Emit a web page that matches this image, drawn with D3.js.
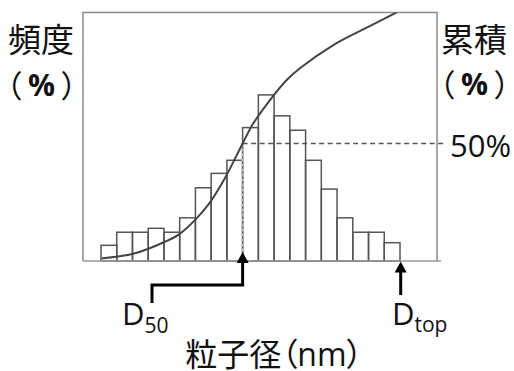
<!DOCTYPE html>
<html>
<head>
<meta charset="utf-8">
<script src="https://cdn.jsdelivr.net/npm/d3@7"></script>
<style>
  html, body { margin: 0; padding: 0; background: #fff; }
  text { font-family: "Open Sans", "Noto Sans CJK JP", sans-serif; font-feature-settings: "palt"; fill: #111; }
</style>
</head>
<body>
<div id="chart"></div>
<script>
// Histogram bins (particle size classes) and frequency in %
var bins = ["1", "2", "3", "4", "5", "6", "7", "8", "9", "10",
            "11", "12", "13", "14", "15", "16", "17", "18", "19"];
var frequency = [1.2, 2.2, 2.2, 2.5, 2.2, 3.3, 5.6, 6.7, 7.7, 10.2,
                 12.7, 11.1, 10.0, 7.7, 5.5, 3.3, 2.2, 2.2, 1.4];

// Cumulative curve (position in bin units, %)
var cumPos = [0.04, 2.16, 4.07, 4.91, 5.97, 6.88, 7.88, 9.0, 9.68,
              10.74, 11.8, 12.64, 14.76, 16.88, 18.79];
var cumValue = [1.1, 3.3, 8.2, 11.1, 17.4, 24.5, 35.3, 50.0, 58.6,
                68.5, 77.0, 82.0, 91.9, 99.3, 105.8];

// Marker positions
var d50Pos = 9.0;
var dTopPos = 19;
var cumLevel = 50;

// Layout
var width = 514;
var height = 371;
var frame = { left: 83, right: 437, top: 12.5, bottom: 261 };

var svg = d3.select("#chart")
    .append("svg")
    .attr("width", width)
    .attr("height", height);

// Scales
var x = d3.scaleLinear()
    .domain([0, bins.length])
    .range([101, 400]);

var yFreq = d3.scaleLinear()
    .domain([0, 19])
    .range([frame.bottom, frame.top]);

var yCum = d3.scaleLinear()
    .domain([0, 100])
    .range([frame.bottom, frame.bottom - 235]);

// Clip for curve
svg.append("clipPath")
    .attr("id", "plot-clip")
    .append("rect")
    .attr("x", frame.left)
    .attr("y", frame.top)
    .attr("width", frame.right - frame.left)
    .attr("height", frame.bottom - frame.top);

// Bars
svg.append("g")
    .selectAll("rect")
    .data(frequency)
    .enter()
    .append("rect")
    .attr("x", function(d, i) { return x(i); })
    .attr("y", function(d) { return yFreq(d); })
    .attr("width", function(d, i) { return x(i + 1) - x(i); })
    .attr("height", function(d) { return frame.bottom - yFreq(d); })
    .style("fill", "none")
    .style("stroke", "#555")
    .style("stroke-width", 1.5);

// Frame (left, top, right) and baseline
svg.append("path")
    .attr("d", "M" + frame.left + "," + frame.bottom + "V" + frame.top + "H" + frame.right + "V" + frame.bottom)
    .style("fill", "none")
    .style("stroke", "#8a8a8a")
    .style("stroke-width", 1.5);

svg.append("line")
    .attr("x1", frame.left)
    .attr("x2", frame.right + 4)
    .attr("y1", frame.bottom)
    .attr("y2", frame.bottom)
    .style("stroke", "#999")
    .style("stroke-width", 1.5);

// D50 vertical dotted line
svg.append("line")
    .attr("x1", x(d50Pos))
    .attr("x2", x(d50Pos))
    .attr("y1", yCum(cumLevel))
    .attr("y2", frame.bottom)
    .style("stroke", "#bbb")
    .style("stroke-width", 2.5)
    .style("stroke-dasharray", "3,2");

// 50% dashed line
svg.append("line")
    .attr("x1", x(d50Pos))
    .attr("x2", 446)
    .attr("y1", yCum(cumLevel))
    .attr("y2", yCum(cumLevel))
    .style("stroke", "#555")
    .style("stroke-width", 1.5)
    .style("stroke-dasharray", "5,3.5");

// Cumulative curve
var line = d3.line()
    .x(function(d) { return x(d[0]); })
    .y(function(d) { return yCum(d[1]); })
    .curve(d3.curveCatmullRom.alpha(0.5));

svg.append("path")
    .datum(d3.zip(cumPos, cumValue))
    .attr("d", line)
    .attr("clip-path", "url(#plot-clip)")
    .style("fill", "none")
    .style("stroke", "#444")
    .style("stroke-width", 2);

// Arrows
function arrowHead(px, tipY) {
    return "M" + px + "," + tipY + "L" + (px - 6) + "," + (tipY + 11) + "L" + (px + 6) + "," + (tipY + 11) + "Z";
}

var d50x = x(d50Pos);
svg.append("path")
    .attr("d", "M" + d50x + "," + 262 + "V285H152V303")
    .style("fill", "none")
    .style("stroke", "#000")
    .style("stroke-width", 3);
svg.append("path")
    .attr("d", arrowHead(d50x, 252))
    .style("fill", "#000");

var dTopx = x(dTopPos) + 0.7;
svg.append("line")
    .attr("x1", dTopx)
    .attr("x2", dTopx)
    .attr("y1", 271)
    .attr("y2", 295)
    .style("stroke", "#000")
    .style("stroke-width", 3);
svg.append("path")
    .attr("d", arrowHead(dTopx, 261.5))
    .style("fill", "#000");

// Labels
var d50Label = svg.append("text")
    .attr("x", 122)
    .attr("y", 325)
    .style("font-size", "31px");
d50Label.append("tspan").text("D");
d50Label.append("tspan")
    .attr("dy", 8)
    .style("font-size", "21px")
    .text("50");

var dTopLabel = svg.append("text")
    .attr("x", 392)
    .attr("y", 325)
    .style("font-size", "31px");
dTopLabel.append("tspan").text("D");
dTopLabel.append("tspan")
    .attr("dy", 7)
    .style("font-size", "21px")
    .text("top");

svg.append("text")
    .attr("x", 450)
    .attr("y", 157)
    .style("font-size", "31px")
    .text("50%");

// Axis titles
function unitLabel(left, right, baseY) {
    svg.append("text")
        .attr("x", left - 2)
        .attr("y", baseY)
        .style("font-size", "31px")
        .text("（");
    svg.append("text")
        .attr("x", (left + right) / 2)
        .attr("y", baseY - 1)
        .attr("text-anchor", "middle")
        .style("font-size", "30px")
        .style("font-weight", "bold")
        .text("%");
    svg.append("text")
        .attr("x", right + 2)
        .attr("y", baseY)
        .attr("text-anchor", "end")
        .style("font-size", "31px")
        .text("）");
}

svg.append("text")
    .attr("x", 8)
    .attr("y", 52)
    .style("font-size", "33px")
    .text("頻度");
unitLabel(8, 75, 97);

svg.append("text")
    .attr("x", 441)
    .attr("y", 52)
    .style("font-size", "33px")
    .text("累積");
unitLabel(441, 508, 96);

svg.append("text")
    .attr("x", 274)
    .attr("y", 366)
    .attr("text-anchor", "middle")
    .style("font-size", "32px")
    .text("粒子径（nm）");
</script>
</body>
</html>
